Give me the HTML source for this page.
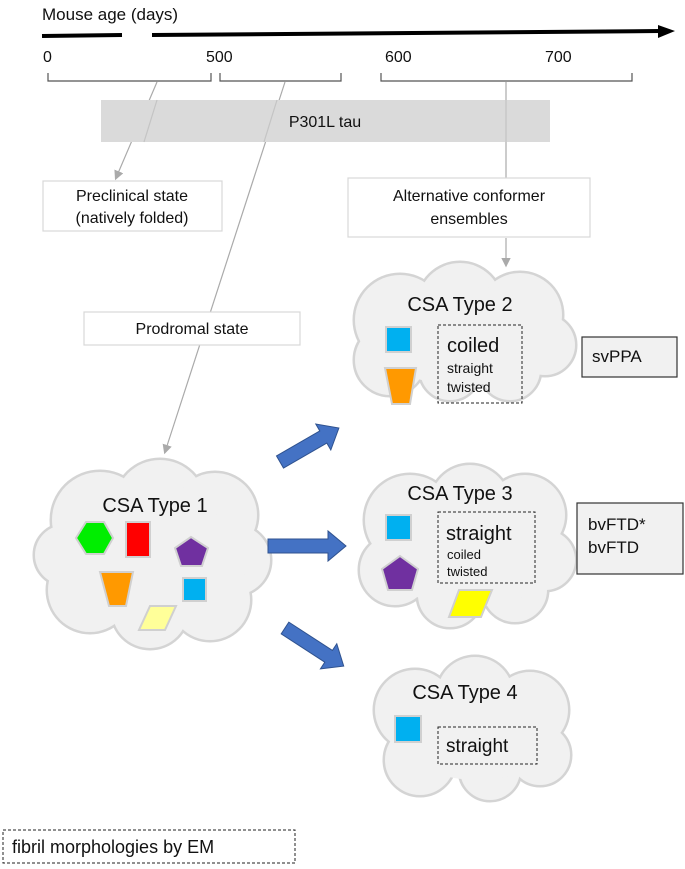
<!DOCTYPE html>
<html><head><style>body{margin:0;background:#fff}svg{display:block}text{font-family:"Liberation Sans",sans-serif;fill:#111}</style></head><body>
<svg width="685" height="869" viewBox="0 0 685 869">
<defs>
<marker id="ga" markerWidth="8" markerHeight="8" refX="6" refY="4" orient="auto"><path d="M0,0 L8,4 L0,8 z" fill="#aaa"/></marker>
</defs>
<text x="42" y="20" font-size="17">Mouse age (days)</text>
<path d="M42,36 L122,35" stroke="#000" stroke-width="4"/>
<path d="M152,35 L660,31" stroke="#000" stroke-width="4"/>
<path d="M658,25 L675,31 L658,38 z" fill="#000"/>
<g font-size="16"><text x="43" y="62">0</text><text x="206" y="62">500</text><text x="385" y="62">600</text><text x="545" y="62">700</text></g>
<g fill="none" stroke="#555" stroke-width="1.2">
<path d="M48,73 V81 H211 V73"/><path d="M220,73 V81 H341 V73"/><path d="M381,73 V81 H632 V73"/>
</g>
<g stroke="#aaa" stroke-width="1.2" fill="none">
<path d="M157,82 L116,178" marker-end="url(#ga)"/>
<path d="M285,82 L165,452" marker-end="url(#ga)"/>
<path d="M506,82 V178"/>
<path d="M506,238 V265" marker-end="url(#ga)"/>
</g>
<rect x="101" y="100" width="449" height="42" fill="#dadada"/>
<g stroke="#c4c4c4" stroke-width="1.2"><path d="M157,100 L144,142"/><path d="M277,100 L264,142"/><path d="M506,100 V142"/></g>
<text x="325" y="127" font-size="16" text-anchor="middle">P301L tau</text>
<g fill="#fff" stroke="#d8d8d8" stroke-width="1.2">
<rect x="43" y="181" width="179" height="50"/>
<rect x="348" y="178" width="242" height="59"/>
<rect x="84" y="312" width="216" height="33"/>
</g>
<g font-size="16" text-anchor="middle">
<text x="132" y="201">Preclinical state</text>
<text x="132" y="223">(natively folded)</text>
<text x="469" y="201">Alternative conformer</text>
<text x="469" y="224">ensembles</text>
<text x="192" y="334">Prodromal state</text>
</g>
<!-- clouds -->
<g fill="#f1f1f1" stroke="#d4d4d4" stroke-width="5">
<circle cx="100" cy="520" r="48"/><circle cx="160" cy="505" r="45"/><circle cx="215" cy="515" r="42"/><circle cx="235" cy="560" r="35"/><circle cx="210" cy="600" r="40"/><circle cx="150" cy="610" r="38"/><circle cx="90" cy="590" r="42"/><circle cx="65" cy="555" r="30"/>
<circle cx="400" cy="320" r="45"/><circle cx="460" cy="305" r="42"/><circle cx="520" cy="315" r="42"/><circle cx="545" cy="345" r="30"/><circle cx="510" cy="370" r="30"/><circle cx="450" cy="370" r="30"/><circle cx="390" cy="360" r="35"/>
<circle cx="410" cy="520" r="45"/><circle cx="470" cy="505" r="40"/><circle cx="525" cy="515" r="40"/><circle cx="545" cy="560" r="30"/><circle cx="515" cy="590" r="32"/><circle cx="450" cy="595" r="32"/><circle cx="395" cy="570" r="35"/>
<circle cx="415" cy="710" r="40"/><circle cx="475" cy="695" r="38"/><circle cx="530" cy="710" r="38"/><circle cx="540" cy="755" r="30"/><circle cx="490" cy="770" r="30"/><circle cx="420" cy="760" r="35"/>
</g>
<g fill="#f1f1f1">
<circle cx="100" cy="520" r="48"/><circle cx="160" cy="505" r="45"/><circle cx="215" cy="515" r="42"/><circle cx="235" cy="560" r="35"/><circle cx="210" cy="600" r="40"/><circle cx="150" cy="610" r="38"/><circle cx="90" cy="590" r="42"/><circle cx="65" cy="555" r="30"/><ellipse cx="152" cy="560" rx="95" ry="62"/>
<circle cx="400" cy="320" r="45"/><circle cx="460" cy="305" r="42"/><circle cx="520" cy="315" r="42"/><circle cx="545" cy="345" r="30"/><circle cx="510" cy="370" r="30"/><circle cx="450" cy="370" r="30"/><circle cx="390" cy="360" r="35"/><ellipse cx="465" cy="340" rx="95" ry="45"/>
<circle cx="410" cy="520" r="45"/><circle cx="470" cy="505" r="40"/><circle cx="525" cy="515" r="40"/><circle cx="545" cy="560" r="30"/><circle cx="515" cy="590" r="32"/><circle cx="450" cy="595" r="32"/><circle cx="395" cy="570" r="35"/><ellipse cx="470" cy="555" rx="90" ry="52"/>
<circle cx="415" cy="710" r="40"/><circle cx="475" cy="695" r="38"/><circle cx="530" cy="710" r="38"/><circle cx="540" cy="755" r="30"/><circle cx="490" cy="770" r="30"/><circle cx="420" cy="760" r="35"/><ellipse cx="478" cy="735" rx="80" ry="45"/>
</g>
<g font-size="20" text-anchor="middle">
<text x="155" y="512">CSA Type 1</text>
<text x="460" y="311">CSA Type 2</text>
<text x="460" y="500">CSA Type 3</text>
<text x="465" y="699">CSA Type 4</text>
</g>
<!-- shapes -->
<g stroke="#d0d0d0" stroke-width="2">
<polygon points="76,538 86,522 104,522 113,538 104,554 86,554" fill="#00ee00"/>
<rect x="126" y="522" width="24" height="35" fill="#ff0000"/>
<polygon points="191,537 208,548 202,566 181,566 175,548" fill="#7030a0"/>
<polygon points="100,572 133,572 126,606 109,606" fill="#ff9900"/>
<rect x="183" y="578" width="23" height="23" fill="#00b0f0"/>
<polygon points="150,606 176,606 165,630 139,630" fill="#ffff99"/>
<rect x="386" y="327" width="25" height="25" fill="#00b0f0"/>
<polygon points="385,368 416,368 410,404 392,404" fill="#ff9900"/>
<rect x="386" y="515" width="25" height="25" fill="#00b0f0"/>
<polygon points="400,556 418,569 412,590 388,590 382,569" fill="#7030a0"/>
<polygon points="459,590 492,590 481,617 449,617" fill="#ffff00"/>
<rect x="395" y="716" width="26" height="26" fill="#00b0f0"/>
</g>
<g fill="none" stroke="#222" stroke-width="1" stroke-dasharray="3,2">
<rect x="438" y="325" width="84" height="78"/>
<rect x="438" y="512" width="97" height="71"/>
<rect x="438" y="727" width="99" height="37"/>
<rect x="3" y="830" width="292" height="33"/>
</g>
<text x="447" y="352" font-size="20">coiled</text>
<text x="447" y="373" font-size="14">straight</text>
<text x="447" y="392" font-size="14">twisted</text>
<text x="446" y="540" font-size="20">straight</text>
<text x="447" y="559" font-size="13">coiled</text>
<text x="447" y="576" font-size="13">twisted</text>
<text x="446" y="752" font-size="19">straight</text>
<text x="12" y="853" font-size="18">fibril morphologies by EM</text>
<g fill="#f1f1f1" stroke="#333" stroke-width="1.2">
<rect x="582" y="337" width="95" height="40"/>
<rect x="577" y="503" width="106" height="71"/>
</g>
<text x="592" y="362" font-size="17">svPPA</text>
<text x="588" y="530" font-size="17">bvFTD*</text>
<text x="588" y="553" font-size="17">bvFTD</text>
<g fill="#4472c4" stroke="#2f528f" stroke-width="1">
<polygon points="0,-7 50,-7 50,-15 68,0 50,15 50,7 0,7" transform="translate(280,462) rotate(-30)"/>
<polygon points="0,-7 60,-7 60,-15 78,0 60,15 60,7 0,7" transform="translate(268,546)"/>
<polygon points="0,-7 52,-7 52,-15 70,0 52,15 52,7 0,7" transform="translate(285,628) rotate(33)"/>
</g>
</svg>
</body></html>
